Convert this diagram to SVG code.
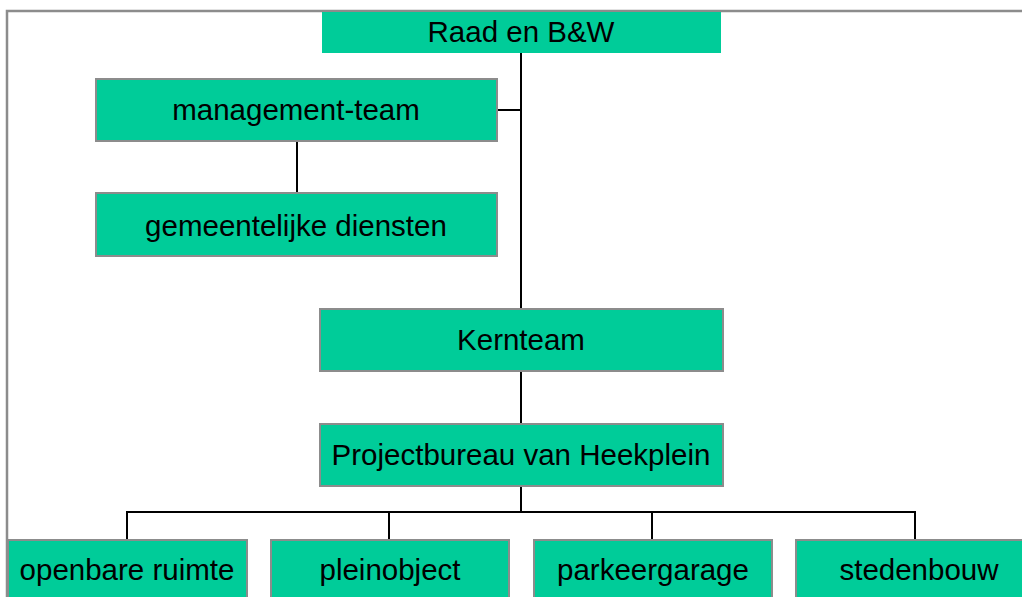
<svg xmlns="http://www.w3.org/2000/svg" width="1022" height="597" viewBox="0 0 1022 597">
<style>
.box{fill:#00CC99;stroke:#8c8c8c;stroke-width:2}
.lbl{font-family:"Liberation Sans",Arial,sans-serif;font-size:29.5px;fill:#000;text-anchor:middle}
.conn{stroke:#000;stroke-width:2;fill:none}
</style>
<rect width="1022" height="597" fill="#fff"/>
<path d="M7,604 V11 H1030" fill="none" stroke="#8c8c8c" stroke-width="2.5"/>
<g id="connectors">
<path class="conn" d="M521,53 V309"/>
<path class="conn" d="M497,110 H521"/>
<path class="conn" d="M297,141 V193"/>
<path class="conn" d="M521,371 V424"/>
<path class="conn" d="M521,486 V512"/>
<path class="conn" d="M127,540 V512 H915 V540"/>
<path class="conn" d="M389,512 V540"/>
<path class="conn" d="M652,512 V540"/>
</g>
<g id="raad">
<rect x="322" y="12" width="399" height="41" fill="#00CC99"/>
<text class="lbl" x="521" y="42">Raad en B&amp;W</text>
</g>
<g id="management-team">
<rect class="box" x="96" y="79" width="401" height="62"/>
<text class="lbl" x="296" y="120">management-team</text>
</g>
<g id="gemeentelijke-diensten">
<rect class="box" x="96" y="193" width="401" height="63"/>
<text class="lbl" x="296" y="236">gemeentelijke diensten</text>
</g>
<g id="kernteam">
<rect class="box" x="320" y="309" width="403" height="62"/>
<text class="lbl" x="521" y="350">Kernteam</text>
</g>
<g id="projectbureau">
<rect class="box" x="320" y="424" width="403" height="62"/>
<text class="lbl" x="521" y="465">Projectbureau van Heekplein</text>
</g>
<g id="openbare-ruimte">
<rect class="box" x="8" y="540" width="239" height="70"/>
<text class="lbl" x="127" y="580">openbare ruimte</text>
</g>
<g id="pleinobject">
<rect class="box" x="271" y="540" width="238" height="70"/>
<text class="lbl" x="390" y="580">pleinobject</text>
</g>
<g id="parkeergarage">
<rect class="box" x="534" y="540" width="238" height="70"/>
<text class="lbl" x="653" y="580">parkeergarage</text>
</g>
<g id="stedenbouw">
<rect class="box" x="796" y="540" width="246" height="70"/>
<text class="lbl" x="919" y="580">stedenbouw</text>
</g>
</svg>
